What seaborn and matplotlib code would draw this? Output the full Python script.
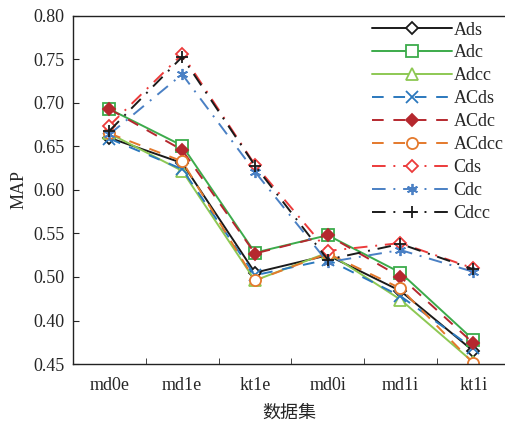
import numpy as np
import seaborn as sns
import matplotlib.pyplot as plt
from matplotlib.ticker import FixedLocator

# data
datasets = ['md0e', 'md1e', 'kt1e', 'md0i', 'md1i', 'kt1i']

ads = [0.660, 0.631, 0.505, 0.525, 0.484, 0.415]
adc = [0.693, 0.651, 0.528, 0.548, 0.505, 0.428]
adcc = [0.665, 0.622, 0.496, 0.528, 0.474, 0.402]
acds = [0.659, 0.624, 0.502, 0.520, 0.478, 0.418]
acdc = [0.693, 0.646, 0.527, 0.548, 0.500, 0.424]
acdcc = [0.665, 0.633, 0.496, 0.527, 0.487, 0.401]
cds = [0.674, 0.756, 0.629, 0.530, 0.539, 0.510]
cdc = [0.664, 0.733, 0.621, 0.517, 0.531, 0.506]
cdcc = [0.668, 0.753, 0.628, 0.520, 0.538, 0.509]

series_names = ['Ads', 'Adc', 'Adcc', 'ACds', 'ACdc', 'ACdcc', 'Cds', 'Cdc', 'Cdcc']
series_vals = [ads, adc, adcc, acds, acdc, acdcc, cds, cdc, cdcc]

ytick_vals = [0.40, 0.45, 0.50, 0.55, 0.60, 0.65, 0.70, 0.75, 0.80]
ytick_labels = ['0.45', '0.40', '0.50', '0.55', '0.60', '0.65', '0.70', '0.75', '0.80']

sns.set_style('ticks')
plt.rcParams['font.family'] = ['Liberation Serif', 'Noto Sans CJK SC']

solid = '-'
dashed = (0, (6, 5))
dashdot = (0, (7, 4, 1, 4))

# name: color, marker, linestyle, filled
styles = {
    'Ads': ('#1a1a1a', 'D', solid, False),
    'Adc': ('#3cab4b', 's', solid, False),
    'Adcc': ('#8dc853', '^', solid, False),
    'ACds': ('#2b78bd', 'x', dashed, True),
    'ACdc': ('#b5282e', 'D', dashed, True),
    'ACdcc': ('#e4792c', 'o', dashed, False),
    'Cds': ('#ec3b3b', 'D', dashdot, False),
    'Cdc': ('#4a80c4', (6, 2, 0), dashdot, True),
    'Cdcc': ('#1a1a1a', '+', dashdot, True),
}

fig = plt.figure(figsize=(5.06, 4.24), dpi=100)
ax = fig.add_axes([0.1443, 0.1415, 0.8557, 0.8208])

x = np.arange(len(datasets))
for name, vals in zip(series_names, series_vals):
    color, marker, ls, filled = styles[name]
    kw = dict(markerfacecolor=color if filled else 'white',
              markeredgecolor=color, markeredgewidth=1.3)
    if marker == 'D':
        kw['markersize'] = 6.5
    else:
        kw['markersize'] = 8
    sns.lineplot(x=x, y=vals, ax=ax, color=color, marker=marker,
                 linestyle=ls, linewidth=1.4, label=name, **kw)

ax.set_xlim(-0.5, 5.45)
ax.set_ylim(0.40, 0.80)
ax.set_xticks(x)
ax.set_xticklabels(datasets, fontsize=13)
ax.xaxis.set_minor_locator(FixedLocator([0.5, 1.5, 2.5, 3.5, 4.5]))
ax.tick_params(axis='x', which='major', length=0, pad=9)
ax.tick_params(axis='x', which='minor', direction='in', length=4)
ax.set_yticks(ytick_vals)
ax.set_yticklabels(ytick_labels, fontsize=13)
ax.tick_params(axis='y', direction='in', length=4, pad=6)

ax.spines['right'].set_visible(False)
for s in ['left', 'bottom', 'top']:
    ax.spines[s].set_linewidth(1.0)
    ax.spines[s].set_color('#222222')

ax.set_xlabel('数据集', fontsize=13, labelpad=8)
ax.set_ylabel('MAP', fontsize=13, labelpad=4)

ax.legend(loc='upper right', bbox_to_anchor=(1.015, 1.01), frameon=False,
          fontsize=13, handlelength=4.4, handletextpad=0.1,
          labelspacing=0.33, borderaxespad=0.1)

fig.savefig('out.png', dpi=100)
